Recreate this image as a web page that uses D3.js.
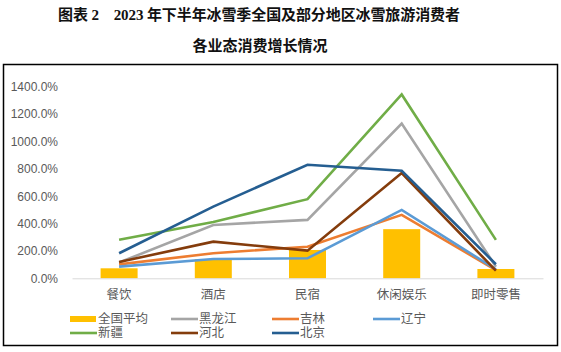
<!DOCTYPE html>
<html>
<head>
<meta charset="utf-8">
<script src="https://cdn.jsdelivr.net/npm/d3@7"></script>
<style>
  body { margin: 0; background: #fff; }
  svg { display: block; }
</style>
</head>
<body>
<svg id="chart" width="561" height="352"></svg>
<script>
// categories and values (percent growth)
let categories = ['餐饮', '酒店', '民宿', '休闲娱乐', '即时零售']
let national = [73, 139, 207, 359, 68]
let heilongjiang = [115, 390, 427, 1130, 85]
let jilin = [102, 183, 231, 464, 60]
let liaoning = [85, 141, 146, 500, 65]
let xinjiang = [281, 412, 578, 1343, 281]
let hebei = [119, 268, 202, 769, 56]
let beijing = [183, 524, 830, 786, 103]
let yTicks = [0, 200, 400, 600, 800, 1000, 1200, 1400]

let lineSeries = [
    { name: '黑龙江', values: heilongjiang, color: '#A5A5A5' },
    { name: '吉林', values: jilin, color: '#ED7D31' },
    { name: '辽宁', values: liaoning, color: '#5B9BD5' },
    { name: '新疆', values: xinjiang, color: '#70AD47' },
    { name: '河北', values: hebei, color: '#843C0C' },
    { name: '北京', values: beijing, color: '#255E91' }
]

let svg = d3.select('#chart')
let font = 'Liberation Sans, Arial, "Noto Sans CJK SC", sans-serif'

// title
let title = svg.append('g')
    .attr('font-family', '"Liberation Serif", "Noto Sans CJK SC", serif')
    .attr('font-weight', 'bold')
    .attr('font-size', 15)
    .attr('fill', '#111')
title.append('text').attr('x', 58).attr('y', 20).attr('textLength', 402)
    .text('图表 2　2023 年下半年冰雪季全国及部分地区冰雪旅游消费者')
title.append('text').attr('x', 260).attr('y', 51).attr('text-anchor', 'middle')
    .text('各业态消费增长情况')

// frame
svg.append('rect')
    .attr('x', 3.5).attr('y', 64.5)
    .attr('width', 554).attr('height', 281)
    .attr('fill', 'none')
    .attr('stroke', '#000')
    .attr('stroke-width', 1.5)

let x = d3.scaleBand().domain(categories).range([72, 543])
let y = d3.scaleLinear().domain([0, 1400]).range([278.3, 86.7])
let cx = d => x(d) + x.bandwidth() / 2

// y axis labels
let yAxis = d3.axisLeft(y).tickValues(yTicks).tickSize(0).tickPadding(0)
    .tickFormat(d => d3.format('.1f')(d) + '%')
let ya = svg.append('g').attr('transform', 'translate(58,0)').call(yAxis)
ya.select('.domain').remove()
ya.selectAll('text')
    .attr('font-family', font)
    .attr('font-size', 12)
    .attr('fill', '#595959')

// bars
let barW = 37
svg.append('g').selectAll('rect')
    .data(national)
    .join('rect')
    .attr('x', (d, i) => cx(categories[i]) - barW / 2)
    .attr('y', d => y(d))
    .attr('width', barW)
    .attr('height', d => y(0) - y(d))
    .attr('fill', '#FFC000')

// baseline axis
let xAxis = d3.axisBottom(x).tickSize(0).tickPadding(12)
let xa = svg.append('g').attr('transform', `translate(0,${y(0)})`).call(xAxis)
xa.select('.domain').attr('stroke', '#D9D9D9').attr('stroke-width', 1)
xa.selectAll('text')
    .attr('font-family', font)
    .attr('font-size', 12.5)
    .attr('fill', '#595959')

// lines
let line = d3.line().x((d, i) => cx(categories[i])).y(d => y(d))
svg.append('g').selectAll('path')
    .data(lineSeries)
    .join('path')
    .attr('d', d => line(d.values))
    .attr('fill', 'none')
    .attr('stroke', d => d.color)
    .attr('stroke-width', 2.6)

// legend
let legendItems = [{ name: '全国平均', color: '#FFC000', bar: true }].concat(lineSeries)
let legend = svg.append('g')
legendItems.forEach((d, i) => {
    let col = i % 4
    let row = Math.floor(i / 4)
    let lx = 70 + col * 101
    let ly = 319 + row * 14
    let g = legend.append('g').attr('transform', `translate(${lx},${ly})`)
    if (d.bar) {
        g.append('rect').attr('x', 0).attr('y', -3).attr('width', 26).attr('height', 6).attr('fill', d.color)
    } else {
        g.append('line').attr('x1', 0).attr('x2', 27).attr('y1', 0).attr('y2', 0)
            .attr('stroke', d.color).attr('stroke-width', 2.6)
    }
    g.append('text')
        .attr('x', 28).attr('y', 0).attr('dy', '0.35em')
        .attr('font-family', font)
        .attr('font-size', 12.5)
        .attr('fill', '#595959')
        .text(d.name)
})
</script>
</body>
</html>
